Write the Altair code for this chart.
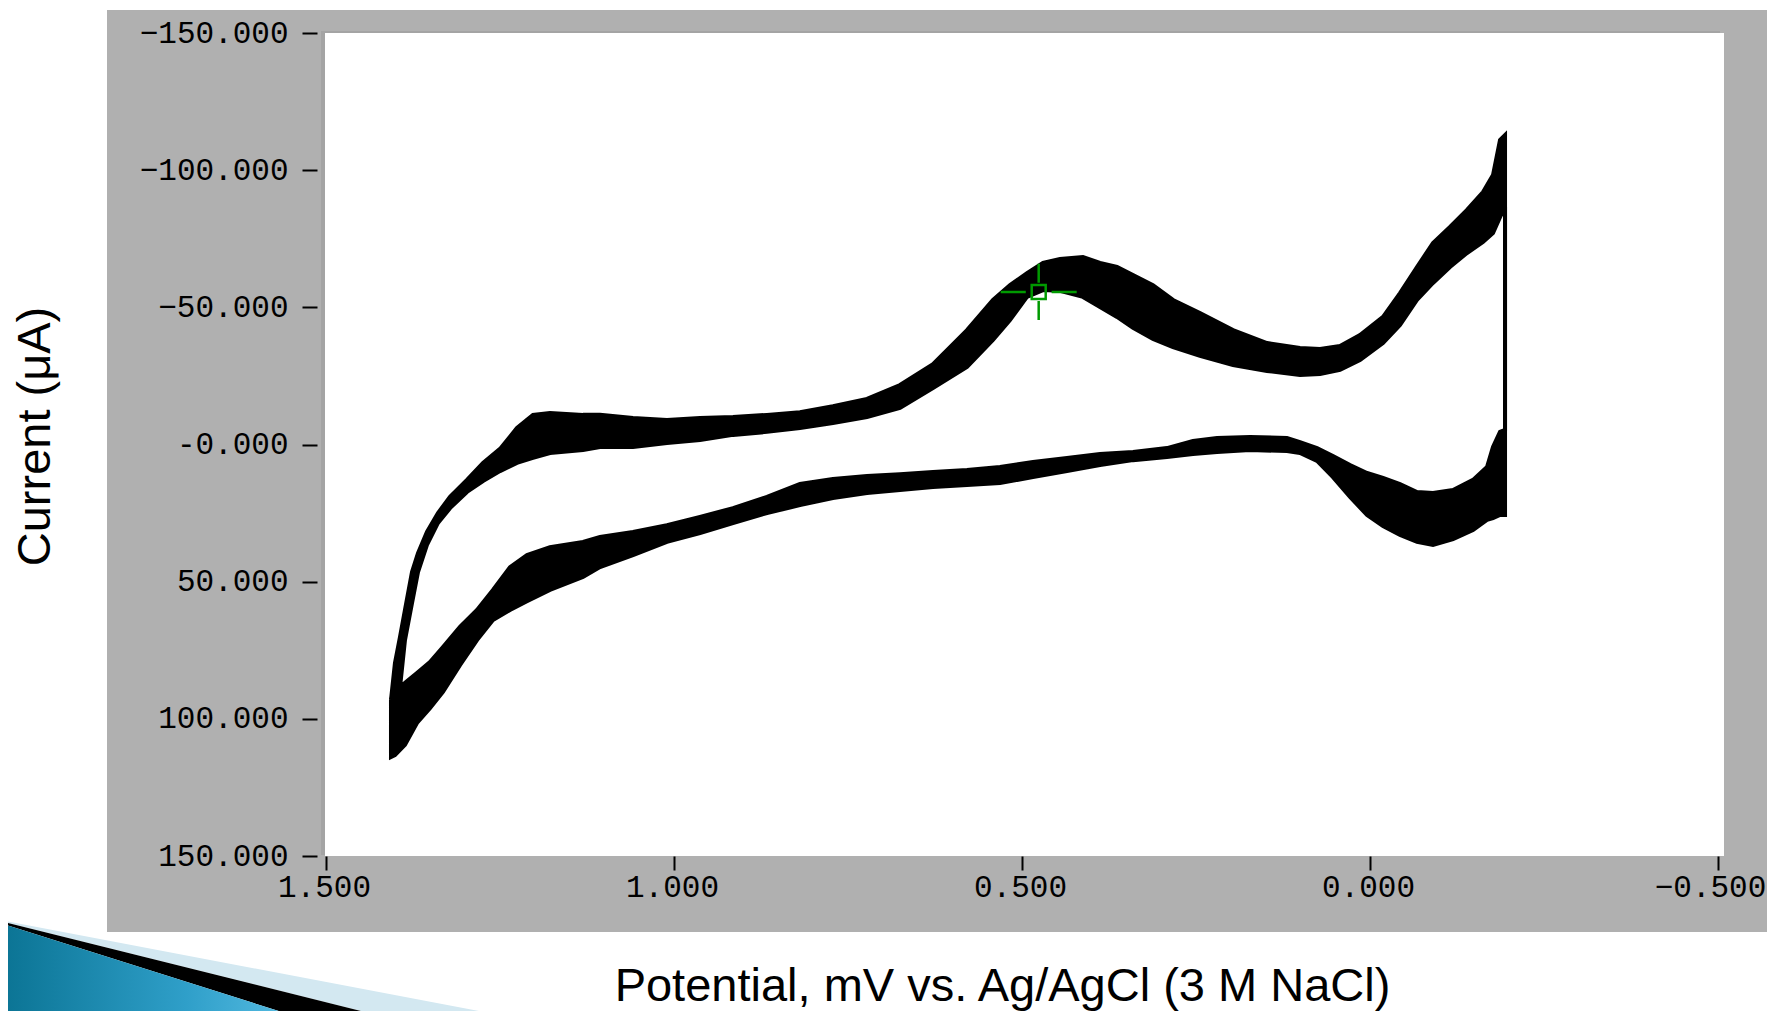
import altair as alt
import pandas as pd

# ---- data (E in V, I in uA) ----
# forward (upper) branch: potential, outer edge and inner edge of the band of cycles
upper_E = [1.4066, 1.4009, 1.3937, 1.3865, 1.3764, 1.3678, 1.3549, 1.3391, 1.3218, 1.2974,
           1.2744, 1.2500, 1.2256, 1.2026, 1.1782, 1.1307, 1.1063, 1.0589, 1.0101, 0.9626,
           0.9152, 0.8664, 0.8190, 0.7716, 0.7227, 0.6753, 0.6279, 0.5790, 0.5417, 0.5172,
           0.4928, 0.4698, 0.4454, 0.4124, 0.3879, 0.3635, 0.3405, 0.3118, 0.2830, 0.2443,
           0.1968, 0.1480, 0.1006, 0.0718, 0.0431, 0.0144, -0.0187, -0.0431, -0.0675, -0.0905,
           -0.1149, -0.1394, -0.1624, -0.1767, -0.1868, -0.1940]
upper_out = [93.1, 79.7, 70.2, 60.3, 46.5, 39.6, 31.9, 25.0, 19.1, 12.9,
             6.7, 1.6, -6.0, -10.8, -11.5, -10.8, -10.8, -9.7, -8.9, -9.7,
             -10.0, -10.8, -11.8, -14.0, -16.6, -21.7, -29.3, -41.7, -52.7, -58.1,
             -62.5, -66.2, -67.6, -68.3, -66.2, -64.7, -61.8, -58.1, -52.7, -47.9,
             -41.7, -37.0, -35.2, -34.8, -35.9, -39.9, -46.5, -55.2, -64.7, -73.4,
             -79.3, -85.5, -92.0, -98.2, -111.0, -112.8]
upper_in = [93.1, 91.3, 88.8, 71.3, 57.8, 46.5, 36.6, 28.6, 23.2, 17.3,
            13.3, 9.7, 6.7, 4.9, 3.1, 2.0, 0.9, 0.9, -0.5, -1.6,
            -3.5, -4.6, -6.0, -7.8, -10.0, -13.3, -20.6, -28.3, -38.1, -45.4,
            -53.8, -56.3, -56.0, -53.8, -50.1, -46.5, -42.5, -38.5, -35.5, -32.3,
            -29.0, -26.8, -25.3, -25.7, -27.2, -30.8, -37.0, -43.6, -52.7, -58.9,
            -64.7, -69.8, -73.8, -77.1, -82.9, -86.6]

# reverse (lower) branch: potential, inner (top) edge and outer (bottom) edge
lower_E = [-0.1940, -0.1868, -0.1767, -0.1681, -0.1480, -0.1193, -0.0905, -0.0675, -0.0431, -0.0187,
           0.0043, 0.0287, 0.0532, 0.0761, 0.1006, 0.1193, 0.1724, 0.2198, 0.2543, 0.2917,
           0.3405, 0.3879, 0.4353, 0.4842, 0.5316, 0.5790, 0.6279, 0.6753, 0.7227, 0.7716,
           0.8190, 0.8664, 0.9152, 0.9626, 1.0101, 1.0589, 1.1063, 1.1307, 1.1782, 1.2112,
           1.2356, 1.2601, 1.2830, 1.3075, 1.3319, 1.3506, 1.3693, 1.3865, 1.4009, 1.4066]
lower_in = [-5.3, -4.6, 0.9, 8.2, 12.9, 16.6, 17.7, 17.3, 14.4, 12.2,
            10.4, 7.5, 4.2, 1.3, -0.9, -2.4, -2.7, -2.4, -1.3, 1.3,
            2.7, 3.5, 4.9, 6.4, 8.2, 9.3, 10.0, 10.8, 11.5, 12.6,
            14.4, 19.1, 23.2, 26.4, 29.4, 31.9, 33.7, 35.5, 37.4, 40.3,
            44.7, 53.0, 60.3, 66.5, 73.8, 79.3, 83.3, 86.9, 89.5, 93.1]
lower_out = [25.7, 25.7, 26.8, 27.5, 31.2, 34.5, 36.6, 35.5, 33.0, 29.7,
             25.7, 19.1, 11.9, 6.0, 3.1, 2.4, 2.0, 2.7, 3.5, 4.6,
             5.7, 7.5, 9.7, 11.9, 14.0, 14.8, 15.5, 16.6, 17.7, 19.5,
             22.1, 25.0, 28.6, 32.3, 35.5, 40.3, 44.7, 48.3, 53.0, 57.1,
             60.3, 64.0, 71.3, 80.4, 90.2, 96.1, 101.5, 109.5, 113.2, 113.9]

cursor_E = [0.476]
cursor_I = [-55.6]

x_ticks = [1.5, 1.0, 0.5, 0.0, -0.5]
y_ticks = [-150, -100, -50, 0, 50, 100, 150]
x_title = "Potential, mV vs. Ag/AgCl (3 M NaCl)"
y_title = "Current (μA)"

# ---- tables ----
up = pd.DataFrame({"E": upper_E, "hi": upper_out, "lo": upper_in})
lo = pd.DataFrame({"E": lower_E, "hi": lower_in, "lo": lower_out})

def loop(e1, i1, e2, i2, name):
    e = list(e1) + list(e2) + [e1[0]]
    i = list(i1) + list(i2) + [i1[0]]
    return pd.DataFrame({"E": e, "I": i, "k": range(len(e)), "trace": name})

traces = pd.concat([
    loop(upper_E, upper_out, lower_E, lower_out, "outer"),
    loop(upper_E, upper_in, lower_E, lower_in, "inner"),
])
cur = pd.DataFrame({"E": cursor_E, "I": cursor_I})
one = pd.DataFrame({"k": [0]})

W, H = 1399, 823
GRAY = "#b0b0b0"
GREEN = "#009a00"
LBL_FONT = "Liberation Mono"

xs = alt.Scale(domain=[1.5014, -0.5086], nice=False, zero=False)
ys = alt.Scale(domain=[-150, 150], reverse=True, nice=False, zero=False)

x_axis = alt.Axis(values=x_ticks, format=".3f", title=x_title, grid=False, domain=False,
                  tickSize=14, tickWidth=2, tickColor="black", labelPadding=2,
                  labelOffset={"condition": {"test": "datum.value < -0.4", "value": -8}, "value": -2},
                  labelFont=LBL_FONT, labelFontSize=31, labelColor="black", labelFlush=False,
                  titleFont="Liberation Sans", titleFontSize=47, titleFontWeight="normal",
                  titleColor="black", titleX=677, titleY=144, titleAlign="center",
                  titleBaseline="alphabetic", zindex=1)
y_axis = alt.Axis(values=y_ticks, labelExpr="datum.value == 0 ? '-0.000' : format(datum.value, '.3f')",
                  title=y_title, grid=False, domain=False, offset=8,
                  tickSize=15, tickWidth=2, tickColor="black", labelPadding=14,
                  labelFont=LBL_FONT, labelFontSize=31, labelColor="black",
                  titleFont="Liberation Sans", titleFontSize=47, titleFontWeight="normal",
                  titleColor="black", titleX=-282, titleY=403, titleAngle=270,
                  titleAlign="center", titleBaseline="middle", zindex=1)

# ---- decoration: grey frame, white plot face, slide wedge ----
frame = alt.Chart(one).mark_rect(color=GRAY).encode(
    x=alt.value(-218), x2=alt.value(1442), y=alt.value(-23), y2=alt.value(899))
inset = alt.Chart(one).mark_rect(color="#a4a4a4").encode(
    x=alt.value(-4), x2=alt.value(1395), y=alt.value(-2), y2=alt.value(822))
face = alt.Chart(one).mark_rect(color="white").encode(
    x=alt.value(0), x2=alt.value(W), y=alt.value(0), y2=alt.value(H))

def wedge(path, fill):
    return alt.Chart(one).mark_point(shape=path, filled=True, fill=fill, opacity=1,
                                     strokeWidth=0, size=40000).encode(
        x=alt.value(-325), y=alt.value(986))

w_light = wedge("M0,-0.99 L5.21,0 L5.5,0.1 L3.93,0.1 L3.93,0 L0,-0.98 Z", "#d3e8f1")
w_black = wedge("M0,-0.98 L3.93,0 L4.0,0.1 L3.04,0.1 L3.04,0 L0,-0.96 Z", "#000000")
w_blue = wedge("M0,-0.96 L3.04,0 L3.1,0.1 L0,0.1 Z",
               {"gradient": "linear", "x1": 0, "y1": 0, "x2": 1, "y2": 0,
                "stops": [{"offset": 0, "color": "#0a7393"},
                          {"offset": 0.6, "color": "#2f9fc9"},
                          {"offset": 1, "color": "#5cc0e6"}]})

# ---- voltammogram ----
X = alt.X("E:Q", scale=xs, axis=x_axis)
band_up = alt.Chart(up).mark_area(color="black", opacity=1).encode(
    x=X, y=alt.Y("hi:Q", scale=ys, axis=y_axis), y2="lo:Q")
band_lo = alt.Chart(lo).mark_area(color="black", opacity=1).encode(
    x=X, y=alt.Y("hi:Q", scale=ys, axis=y_axis), y2="lo:Q")
lines = alt.Chart(traces).mark_line(color="black", strokeWidth=4, strokeJoin="miter").encode(
    x=X, y=alt.Y("I:Q", scale=ys, axis=y_axis), detail="trace:N", order="k:Q")

cursor_sq = alt.Chart(cur).mark_point(shape="square", filled=False, stroke=GREEN,
                                      strokeWidth=2.5, size=196, opacity=1).encode(
    x=X, y=alt.Y("I:Q", scale=ys, axis=y_axis))
cursor_x = alt.Chart(cur).mark_point(
    shape="M-1,0 L-0.34,0 M0.34,0 L1,0 M0,-0.74 L0,-0.24 M0,0.24 L0,0.74",
    filled=False, stroke=GREEN, strokeWidth=2.5, size=5776, opacity=1).encode(
    x=X, y=alt.Y("I:Q", scale=ys, axis=y_axis))

chart = alt.layer(frame, inset, face, w_light, w_black, w_blue,
                  band_up, band_lo, lines, cursor_sq, cursor_x).properties(
    width=W, height=H,
    padding={"left": 317, "top": 25, "right": 43, "bottom": 155},
    autosize=alt.AutoSizeParams(type="none"),
    background="white",
).configure_view(stroke=None)

chart.save("out.html", embed_options={"renderer": "svg", "actions": False})
